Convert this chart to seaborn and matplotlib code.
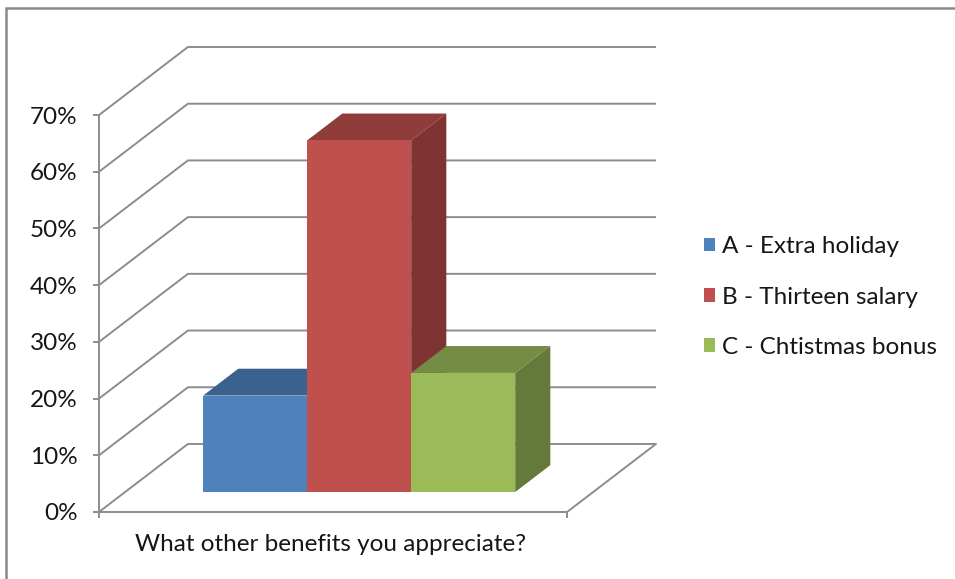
import matplotlib
matplotlib.use("Agg")
import matplotlib.pyplot as plt
from matplotlib.patches import Polygon, Rectangle
import matplotlib.colors as mcolors
import seaborn as sns
import pandas as pd

# ---- data ----
question = "What other benefits you appreciate?"
options = ["A - Extra holiday", "B - Thirteen salary", "C - Chtistmas bonus"]
shares = [0.17, 0.62, 0.21]
ytick_values = [0.0, 0.1, 0.2, 0.3, 0.4, 0.5, 0.6, 0.7]
ytick_labels = ["0%", "10%", "20%", "30%", "40%", "50%", "60%", "70%"]
colors = ["#4F81BD", "#C0504D", "#9BBB59"]

df = pd.DataFrame({"question": [question] * 3, "option": options, "share": shares})

sns.set_style("white")
plt.rcParams["font.family"] = ["Lato", "DejaVu Sans"]
TXT = "#161616"
GRID = "#8c8c8c"
FS = 17.5

# oblique projection geometry (data units)
DX, DY = 0.228, 0.12      # full depth offset
T0, T1 = -0.294, 0.706    # front / back planes relative to bar front plane
BD = 0.395                # bar depth (fraction of full depth)
HALF = 0.6                # half width of floor

fig = plt.figure(figsize=(9.55, 5.79), dpi=100)
ax = fig.add_axes([99 / 955, (579 - 512) / 579, 557 / 955, 465 / 579])

sns.barplot(data=df, x="question", y="share", hue="option", palette=colors,
            saturation=1, errorbar=None, linewidth=0, ax=ax, width=0.8)

xl_f, xr_f = -HALF + T0 * DX, HALF + T0 * DX
xl_b, xr_b = -HALF + T1 * DX, HALF + T1 * DX
y_f, y_b = T0 * DY, T1 * DY

# back wall / side wall gridlines
for v in ytick_values:
    ax.plot([xl_f, xl_b, xr_b], [v + y_f, v + y_b, v + y_b], color=GRID,
            lw=1.4, zorder=1, clip_on=False, solid_capstyle="butt")
# floor right edge
ax.plot([xr_f, xr_b], [y_f, y_b], color=GRID, lw=1.4, zorder=1, clip_on=False)

# 3D faces of bars
for i, cont in enumerate(ax.containers):
    base = mcolors.to_rgb(colors[i])
    top_c = tuple(c * 0.75 for c in base)
    side_c = tuple(c * 0.65 for c in base)
    for rect in cont.patches:
        x0, w, h = rect.get_x(), rect.get_width(), rect.get_height()
        rect.set_zorder(3 + 2 * i)
        top = Polygon([(x0, h), (x0 + w, h), (x0 + w + BD * DX, h + BD * DY),
                       (x0 + BD * DX, h + BD * DY)], closed=True,
                      facecolor=top_c, edgecolor="none", zorder=2 + 2 * i)
        side = Polygon([(x0 + w, 0), (x0 + w, h), (x0 + w + BD * DX, h + BD * DY),
                        (x0 + w + BD * DX, BD * DY)], closed=True,
                       facecolor=side_c, edgecolor="none", zorder=2 + 2 * i)
        ax.add_patch(top)
        ax.add_patch(side)

ax.set_xlim(xl_f, xr_b)
ax.set_ylim(y_f, 0.7 + y_b)

# y axis
ax.set_yticks([v + y_f for v in ytick_values], labels=ytick_labels)
ax.spines["left"].set_bounds(y_f, 0.7 + y_f)
ax.spines["bottom"].set_bounds(xl_f, xr_f)
for s in ["left", "bottom"]:
    ax.spines[s].set_color(GRID)
    ax.spines[s].set_linewidth(1.4)
for s in ["top", "right"]:
    ax.spines[s].set_visible(False)
ax.tick_params(axis="y", length=4.5, width=1.4, color=GRID, pad=11,
               labelsize=FS, labelcolor=TXT, left=True)

# x axis: boundary ticks and the category label
ax.set_xticks([xl_f, xr_f], labels=["", ""])
ax.set_xticks([T0 * DX - 0.006], labels=[question], minor=True)
ax.tick_params(axis="x", which="major", length=4.5, width=1.4, color=GRID, bottom=True)
ax.tick_params(axis="x", which="minor", length=0, pad=16, labelsize=FS, labelcolor=TXT)
ax.set_xlabel("")
ax.set_ylabel("")

sns.move_legend(ax, loc="center left", bbox_to_anchor=(704 / 955, (579 - 297) / 579),
                bbox_transform=fig.transFigure, frameon=False, title=None,
                fontsize=FS, handlelength=0.47, handleheight=0.47,
                handletextpad=0.28, labelspacing=1.2, borderpad=0, borderaxespad=0)
for t in ax.get_legend().get_texts():
    t.set_color(TXT)

# outer chart border
fig.add_artist(Rectangle((6 / 955, -0.02), 1.0, (579 - 8) / 579 + 0.02,
                         transform=fig.transFigure, fill=False,
                         edgecolor="#8a8a8a", linewidth=1.8))

fig.savefig("out.png", dpi=100)
